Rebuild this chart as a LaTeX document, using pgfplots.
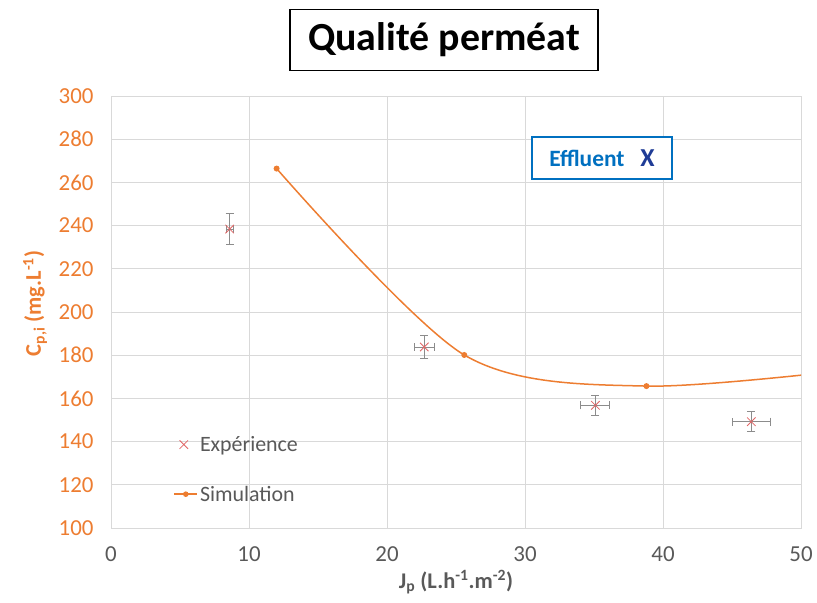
\documentclass[border=0pt]{standalone}
\usepackage{pgfplots}
\pgfplotsset{compat=1.18}
\usepackage{fontspec}
\setmainfont{Carlito}
\definecolor{xorange}{HTML}{ED7D31}
\definecolor{xgray}{HTML}{595959}
\definecolor{xgrid}{HTML}{D9D9D9}
\definecolor{xred}{HTML}{E06666}
\definecolor{xerr}{HTML}{8C8C8C}
\definecolor{xblue}{HTML}{0070C0}
\definecolor{xdblue}{HTML}{1F3C96}
\begin{document}
\begin{tikzpicture}[x=1bp,y=1bp]
\path[use as bounding box] (0,0) rectangle (817,603);
\begin{axis}[
 at={(111bp,75bp)}, anchor=south west,
 scale only axis, width=690bp, height=432bp,
 xmin=0,xmax=50,ymin=100,ymax=300,
 xtick={0,10,...,50}, ytick={100,120,...,300},
 grid=major, major grid style={xgrid, line width=0.8bp},
 axis line style={xgrid, line width=0.8bp},
 tick style={draw=none},
 /pgf/number format/assume math mode=true,
 ticklabel style={font=\fontsize{23}{26}\selectfont},
 xticklabel style={text=xgray, yshift=-15bp},
 yticklabel style={text=xorange, xshift=-14bp},
 xlabel={\textbf{J\textsubscript{p} (L.h\textsuperscript{-1}.m\textsuperscript{-2})}},
 ylabel={\textbf{C\textsubscript{p,i} (mg.L\textsuperscript{-1})}},
 xlabel style={at={(axis description cs:0.5,-0.125)}, anchor=center, text=xgray, font=\fontsize{22.5}{24}\selectfont},
 ylabel style={at={(axis description cs:-0.11,0.52)}, anchor=center, rotate=0, text=xorange, font=\fontsize{22.5}{24}\selectfont},
 legend style={at={(0.086,0.222)}, anchor=north west, draw=none, fill=none,
   font=\fontsize{22}{26}\selectfont, text=xgray, row sep=29bp,
   /tikz/every even column/.append style={column sep=2bp}},
 legend cell align=left,
]
\addplot[only marks, mark=x, mark size=6bp, xred, line width=0.8bp,
  error bars/.cd, x dir=both, y dir=both, x explicit, y explicit,
  error bar style={xerr, line width=0.8bp},
  error mark options={rotate=90, mark size=4bp, xerr, line width=0.8bp}]
 table[x=x, y=y, x error=ex, y error=ey] {
x y ex ey
8.6 238.4 0.25 7.3
22.7 183.8 0.7 5.4
35.1 156.8 1.05 4.7
46.4 149.2 1.4 4.7
};
\addlegendentry{Expérience}
\addplot[xorange, line width=1.5bp, smooth, mark=*, mark size=2.2bp, mark indices={1,2,3},
  legend image code/.code={\draw[xorange, line width=1.5bp] (-1bp,0bp) -- (22bp,0bp); \fill[xorange] (10.5bp,0bp) circle (2bp);}]
 coordinates {(12,266.4) (25.6,180.1) (38.8,165.7) (56,175)};
\addlegendentry{Simulation}
\end{axis}
\node[draw=black, line width=1.2bp, minimum width=308bp, minimum height=61bp, font=\fontsize{40}{44}\selectfont\bfseries] at (444,563) {Qualité perméat};
\node[draw=xblue, fill=white, line width=1.8bp, minimum width=140bp, minimum height=42bp, inner sep=0pt] at (602,445) {\fontsize{23.5}{24}\selectfont\bfseries\color{xblue}Effluent\hspace{16bp}\fontsize{26}{26}\selectfont\color{xdblue}X};
\end{tikzpicture}
\end{document}
